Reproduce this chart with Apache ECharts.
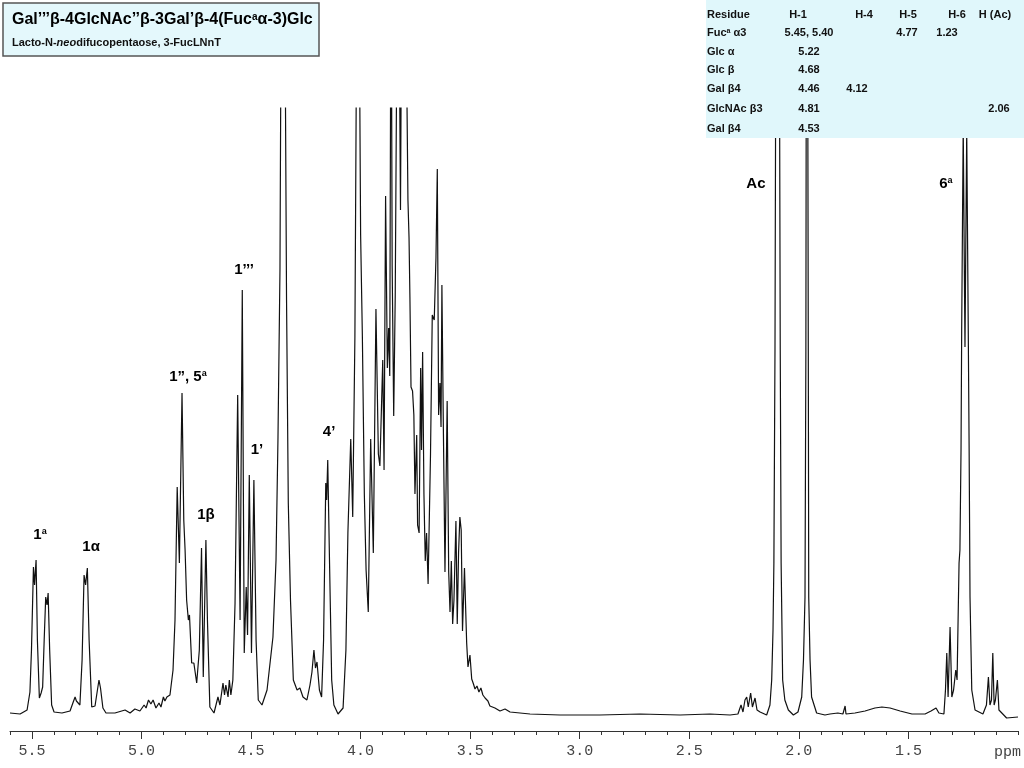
<!DOCTYPE html>
<html>
<head>
<meta charset="utf-8">
<script src="https://cdn.jsdelivr.net/npm/echarts@6/dist/echarts.min.js"></script>
<style>
html,body{margin:0;padding:0;background:#fff;}
#chart{width:1024px;height:768px;}
</style>
</head>
<body>
<div id="chart"></div>
<script>
// ---- Spectrum (chemical shift in ppm, relative intensity) ----
const shiftPpm = [
5.600,5.554,5.522,5.509,5.502,5.493,5.488,5.481,5.475,5.466,5.458,5.451,5.444,5.437,5.431,5.426,5.419,5.410,5.399,5.363,
5.326,5.313,5.303,5.297,5.288,5.281,5.271,5.262,5.255,5.247,5.239,5.227,5.212,5.201,5.194,5.187,5.176,5.162,5.121,5.075,
5.052,5.030,5.007,4.988,4.979,4.968,4.957,4.947,4.934,4.920,4.911,4.900,4.893,4.884,4.870,
4.856,4.847,4.837,4.827,4.815,4.807,4.801,4.794,4.786,4.781,4.771,4.761,4.748,4.736,4.726,4.718,4.706,4.699,4.688,4.669,
4.651,4.642,4.628,4.621,4.615,4.605,4.599,4.592,4.583,4.573,4.561,4.550,4.540,4.531,4.522,4.516,4.508,4.498,4.487,4.477,
4.467,4.450,4.427,4.400,4.386,4.377,4.368,4.363,4.355,4.345,4.338,4.330,4.320,4.307,4.290,4.277,4.263,4.245,4.231,4.222,
4.213,4.206,4.199,4.188,4.178,4.169,4.159,4.155,4.150,4.142,4.132,4.122,4.103,4.080,
4.067,4.058,4.045,4.036,4.026,4.018,4.012,4.006,4.000,3.992,3.983,3.975,3.965,3.954,3.942,3.930,3.919,3.912,3.899,3.893,
3.886,3.878,3.872,3.867,3.861,3.856,3.849,3.842,3.834,3.827,3.818,3.811,3.801,3.790,3.784,3.779,3.775,3.770,3.763,3.757,3.752,3.744,
3.740,3.733,3.726,3.722,3.717,3.711,3.705,3.699,3.692,3.681,3.673,3.664,3.656,3.650,3.644,3.638,3.633,3.629,3.623,3.615,
3.605,3.598,3.592,3.586,3.580,3.574,3.565,3.559,3.553,3.547,3.541,3.535,3.526,3.516,3.510,3.501,3.493,3.485,3.478,3.469,
3.460,3.451,3.442,3.432,3.419,3.410,3.387,3.364,3.341,3.318,3.227,3.090,2.908,2.725,2.542,2.406,2.314,
2.278,2.264,2.255,2.246,2.238,2.231,2.220,2.212,2.200,2.191,2.177,2.147,2.132,2.124,2.118,2.114,2.109,2.105,2.097,2.089,
2.085,2.081,2.074,2.064,2.048,2.025,2.004,1.987,1.979,1.972,1.968,1.966,1.963,1.960,1.957,1.955,1.949,1.942,1.919,1.881,
1.858,1.822,1.799,1.789,1.785,1.744,1.698,1.653,1.621,1.584,1.538,1.484,1.424,1.397,1.374,1.361,1.338,1.331,1.325,1.319,
1.310,1.302,1.294,1.284,1.278,1.269,1.265,1.260,1.257,1.250,1.242,1.234,1.227,1.223,1.219,1.211,1.196,1.160,1.144,1.135,
1.128,1.121,1.115,1.109,1.103,1.094,1.087,1.052,1.000
];
const intensity = [
3,2,6,24,66,149,131,156,76,18,23,29,76,119,111,123,66,11,4,3,
5,13,19,15,17,11,56,141,131,148,76,9,10,26,36,28,8,3,3,6,
3,7,5,11,8,16,12,16,8,13,9,19,15,19,21,
46,96,229,153,323,196,166,116,96,101,53,53,33,66,168,39,176,96,9,3,
19,11,33,21,31,19,36,21,36,113,321,96,426,63,129,81,241,63,236,76,
16,11,26,79,156,279,446,700,900,700,416,213,116,36,26,28,19,16,31,44,
66,48,54,26,19,76,233,216,256,156,36,11,2,8,
66,183,277,199,380,700,900,700,482,380,222,146,104,277,163,407,262,250,356,246,
520,348,388,340,800,450,300,420,700,800,506,800,750,650,516,478,419,329,325,301,222,281,
191,183,348,266,364,222,155,183,132,262,401,396,459,547,301,333,289,431,301,144,
315,144,104,155,92,116,195,92,163,199,186,85,148,73,49,61,37,32,27,30,
24,28,21,18,15,10,8,5,7,4,2,1,1,2,1,2,1,
2,11,4,16,19,9,23,9,18,6,4,1,11,36,86,153,366,700,1000,700,
366,153,36,16,6,1,4,19,56,119,366,700,1000,700,366,119,56,19,3,1,
2,3,2,10,2,3,5,8,9,8,5,2,2,5,8,3,2,26,63,19,
89,19,26,46,36,153,166,266,386,590,369,585,386,266,119,26,6,2,11,39,
11,16,63,11,16,36,6,-2,-1
];

// ---- Peak annotations ----
const peakLabels = ['1{s|a}', '1α', '1”, 5{s|a}', '1β', '1’’’', '1’', '4’', 'Ac', '6{s|a}'];
const peakLabelPpm = [5.463, 5.230, 4.788, 4.706, 4.532, 4.473, 4.144, 2.196, 1.329];
const peakLabelHeight = [181, 169, 339, 201, 446, 266, 284, 532, 532];

// ---- Axis ticks ----
const majorTicks = [1.5, 2.0, 2.5, 3.0, 3.5, 4.0, 4.5, 5.0, 5.5];

// ---- Assignment table ----
const tableHeader = ['Residue', 'H-1', 'H-4', 'H-5', 'H-6', 'H (Ac)'];
const residues = ['Fuc{s|a} α3', 'Glc α', 'Glc β', 'Gal β4', 'GlcNAc β3', 'Gal β4'];
const shiftH1 = ['5.45, 5.40', '5.22', '4.68', '4.46', '4.81', '4.53'];
const shiftH4 = ['', '', '', '4.12', '', ''];
const shiftH5 = ['4.77', '', '', '', '', ''];
const shiftH6 = ['1.23', '', '', '', '', ''];
const shiftHAc = ['', '', '', '', '2.06', ''];

const chart = echarts.init(document.getElementById('chart'));

const spectrum = shiftPpm.map((p, i) => [p, intensity[i]]);
const annot = peakLabelPpm.map((p, i) => ({
  value: [p, peakLabelHeight[i]],
  label: { formatter: peakLabels[i] }
}));

const tableFont = 'bold 11px "Liberation Sans", Arial, sans-serif';
const headerX = [707, 798, 864, 908, 957, 995];
const valueX = [707, 809, 857, 907, 947, 999];
const rowY = [33, 52, 70, 89, 109, 129];
const tableEls = [{
  type: 'rect', shape: { x: 706, y: 0, width: 318, height: 138 },
  style: { fill: '#e0f7fb' }, z: 100
}];
tableHeader.forEach((h, c) => {
  tableEls.push({ type: 'text', z: 101, style: { text: h, x: headerX[c], y: 15, font: tableFont, fill: '#111', align: c === 0 ? 'left' : 'center', verticalAlign: 'middle' } });
});
const cols = [residues, shiftH1, shiftH4, shiftH5, shiftH6, shiftHAc];
cols.forEach((col, c) => {
  col.forEach((v, r) => {
    if (!v) return;
    tableEls.push({ type: 'text', z: 101, style: { text: v, x: valueX[c], y: rowY[r], font: tableFont, fill: '#111', align: c === 0 ? 'left' : 'center', verticalAlign: 'middle', rich: { s: { fontSize: 7, fontWeight: 'bold', fontFamily: 'Liberation Sans', verticalAlign: 'top' } } } });
  });
});

chart.setOption({
  animation: false,
  backgroundColor: '#ffffff',
  grid: [
    { left: 10, right: 6, top: 108, bottom: 37 },
    { left: 10, right: 6, top: 108, bottom: 37 }
  ],
  xAxis: [
    {
      type: 'value', gridIndex: 0, min: 1.0, max: 5.6, interval: 0.1, inverse: true,
      splitLine: { show: false },
      axisLine: { show: true, onZero: false, lineStyle: { color: '#333', width: 1 } },
      axisTick: { show: true, length: 4, lineStyle: { color: '#333' } },
      axisLabel: { show: false }
    },
    {
      type: 'value', gridIndex: 1, min: 1.0, max: 5.6, inverse: true,
      splitLine: { show: false },
      axisLine: { show: false, onZero: false },
      axisTick: { show: true, length: 8, customValues: majorTicks, lineStyle: { color: '#333' } },
      axisLabel: {
        show: true, customValues: majorTicks, margin: 13,
        formatter: v => Number(v).toFixed(1),
        fontFamily: '"Liberation Mono", "DejaVu Sans Mono", monospace', fontSize: 15, color: '#444'
      }
    }
  ],
  yAxis: [
    { type: 'value', gridIndex: 0, min: -15, max: 608, show: false },
    { type: 'value', gridIndex: 1, min: -15, max: 608, show: false }
  ],
  series: [
    {
      type: 'line', xAxisIndex: 0, yAxisIndex: 0, data: spectrum,
      showSymbol: false, symbol: 'none', clip: true,
      lineStyle: { color: '#111', width: 1.2 }
    },
    {
      type: 'scatter', xAxisIndex: 0, yAxisIndex: 0, data: annot, symbolSize: 0, clip: false,
      itemStyle: { opacity: 1 },
      label: {
        show: true, position: 'inside',
        fontFamily: '"Liberation Sans", Arial, sans-serif', fontWeight: 'bold', fontSize: 15, color: '#000',
        rich: { s: { fontSize: 9, fontWeight: 'bold', fontFamily: 'Liberation Sans', verticalAlign: 'top', color: '#000' } }
      },
      z: 5
    }
  ],
  graphic: [
    {
      type: 'rect', shape: { x: 3, y: 3, width: 316, height: 53 },
      style: { fill: '#e4f8fc', stroke: '#555', lineWidth: 1.5 }, z: 100
    },
    {
      type: 'text', z: 101,
      style: {
        text: '{b|Gal’’’β-4GlcNAc’’β-3Gal’β-4(Fuc}{s|a}{b|α-3)Glc}', x: 12, y: 20, verticalAlign: 'middle',
        rich: {
          b: { fontSize: 16, fontWeight: 'bold', fontFamily: 'Liberation Sans', fill: '#000' },
          s: { fontSize: 10, fontWeight: 'bold', fontFamily: 'Liberation Sans', fill: '#000', verticalAlign: 'top' }
        }
      }
    },
    {
      type: 'text', z: 101,
      style: {
        text: '{b|Lacto-N-}{i|neo}{b|difucopentaose, 3-FucLNnT}', x: 12, y: 43, verticalAlign: 'middle',
        rich: {
          b: { fontSize: 11, fontWeight: 'bold', fontFamily: 'Liberation Sans', fill: '#111' },
          i: { fontSize: 11, fontWeight: 'bold', fontStyle: 'italic', fontFamily: 'Liberation Sans', fill: '#111' }
        }
      }
    },
    {
      type: 'text', z: 50,
      style: { text: 'ppm', x: 994, y: 752, verticalAlign: 'middle', font: '15px "Liberation Mono", monospace', fill: '#444' }
    }
  ].concat(tableEls)
});
</script>
</body>
</html>
